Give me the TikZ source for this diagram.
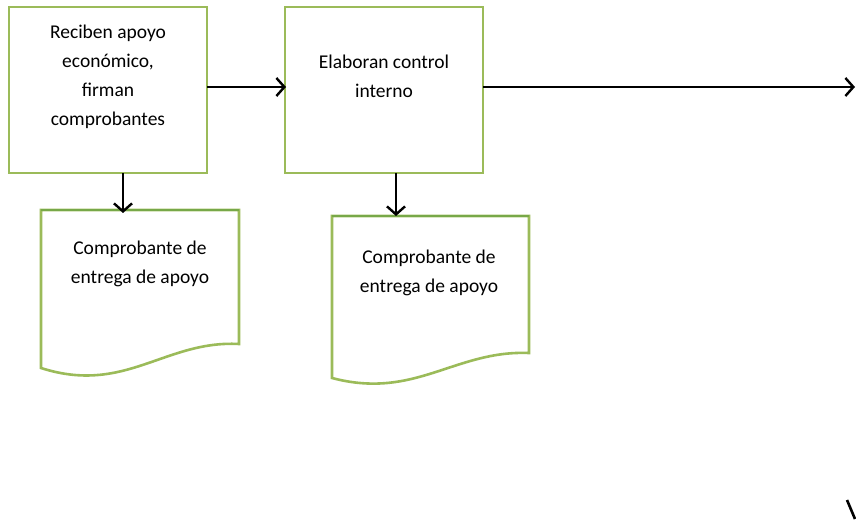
\documentclass[tikz,border=0pt]{standalone}
\usepackage{fontspec}
\setmainfont{Carlito}
\usetikzlibrary{arrows.meta}
\definecolor{boxgreen}{RGB}{155,187,89}
\definecolor{docgreen}{RGB}{119,168,72}
\tikzset{
  procbox/.style={draw=boxgreen, line width=2.6pt, fill=white},
  docbox/.style={draw=boxgreen, line width=2.6pt, fill=white},
  lbl/.style={font=\fontsize{19.5}{29}\selectfont, align=center, inner sep=0pt},
  conn/.style={line width=2.8pt, -{Straight Barb[length=8pt,width=18pt,line width=2.4pt]}}
}
\begin{document}
\begin{tikzpicture}[x=1pt,y=-1pt]
\useasboundingbox (0,0) rectangle (856,521);
% process boxes
\draw[procbox] (9,7) rectangle (207,173);
\coordinate (b1e) at (207,87);
\coordinate (b1s) at (123,173);
\node[lbl] (t1) at (108,77) {Reciben apoyo\\económico,\\firman\\comprobantes};
\draw[procbox] (285,7) rectangle (483,173);
\coordinate (b2w) at (286,87);
\coordinate (b2e) at (483,87);
\coordinate (b2s) at (396,173);
\node[lbl] (t2) at (384,76) {Elaboran control\\interno};
% documents
\draw[docbox] (41,210) -- (239,210) -- (239,344)
  .. controls (165,340) and (125,395) .. (41,368) -- cycle;
\draw[draw=docgreen, line width=2.6pt] (41,210) -- (239,210);
\coordinate (d1n) at (123,213);
\node[lbl] (t3) at (140,264) {Comprobante de\\entrega de apoyo};
\draw[docbox] (332,216) -- (529,216) -- (529,353)
  .. controls (455,350) and (415,400) .. (332,378) -- cycle;
\draw[draw=docgreen, line width=2.6pt] (332,216) -- (529,216);
\coordinate (d2n) at (396,216);
\node[lbl] (t4) at (429,273) {Comprobante de\\entrega de apoyo};
% connectors
\coordinate (out) at (855,87);
\draw[conn] (b1e) -- (b2w);
\draw[conn] (b2e) -- (out);
\draw[conn] (b1s) -- (d1n);
\draw[conn] (b2s) -- (d2n);
% fragment bottom right
\coordinate (f1) at (847,500);
\coordinate (f2) at (855,519);
\draw[line width=2.6pt] (f1) -- (f2);
\end{tikzpicture}
\end{document}
